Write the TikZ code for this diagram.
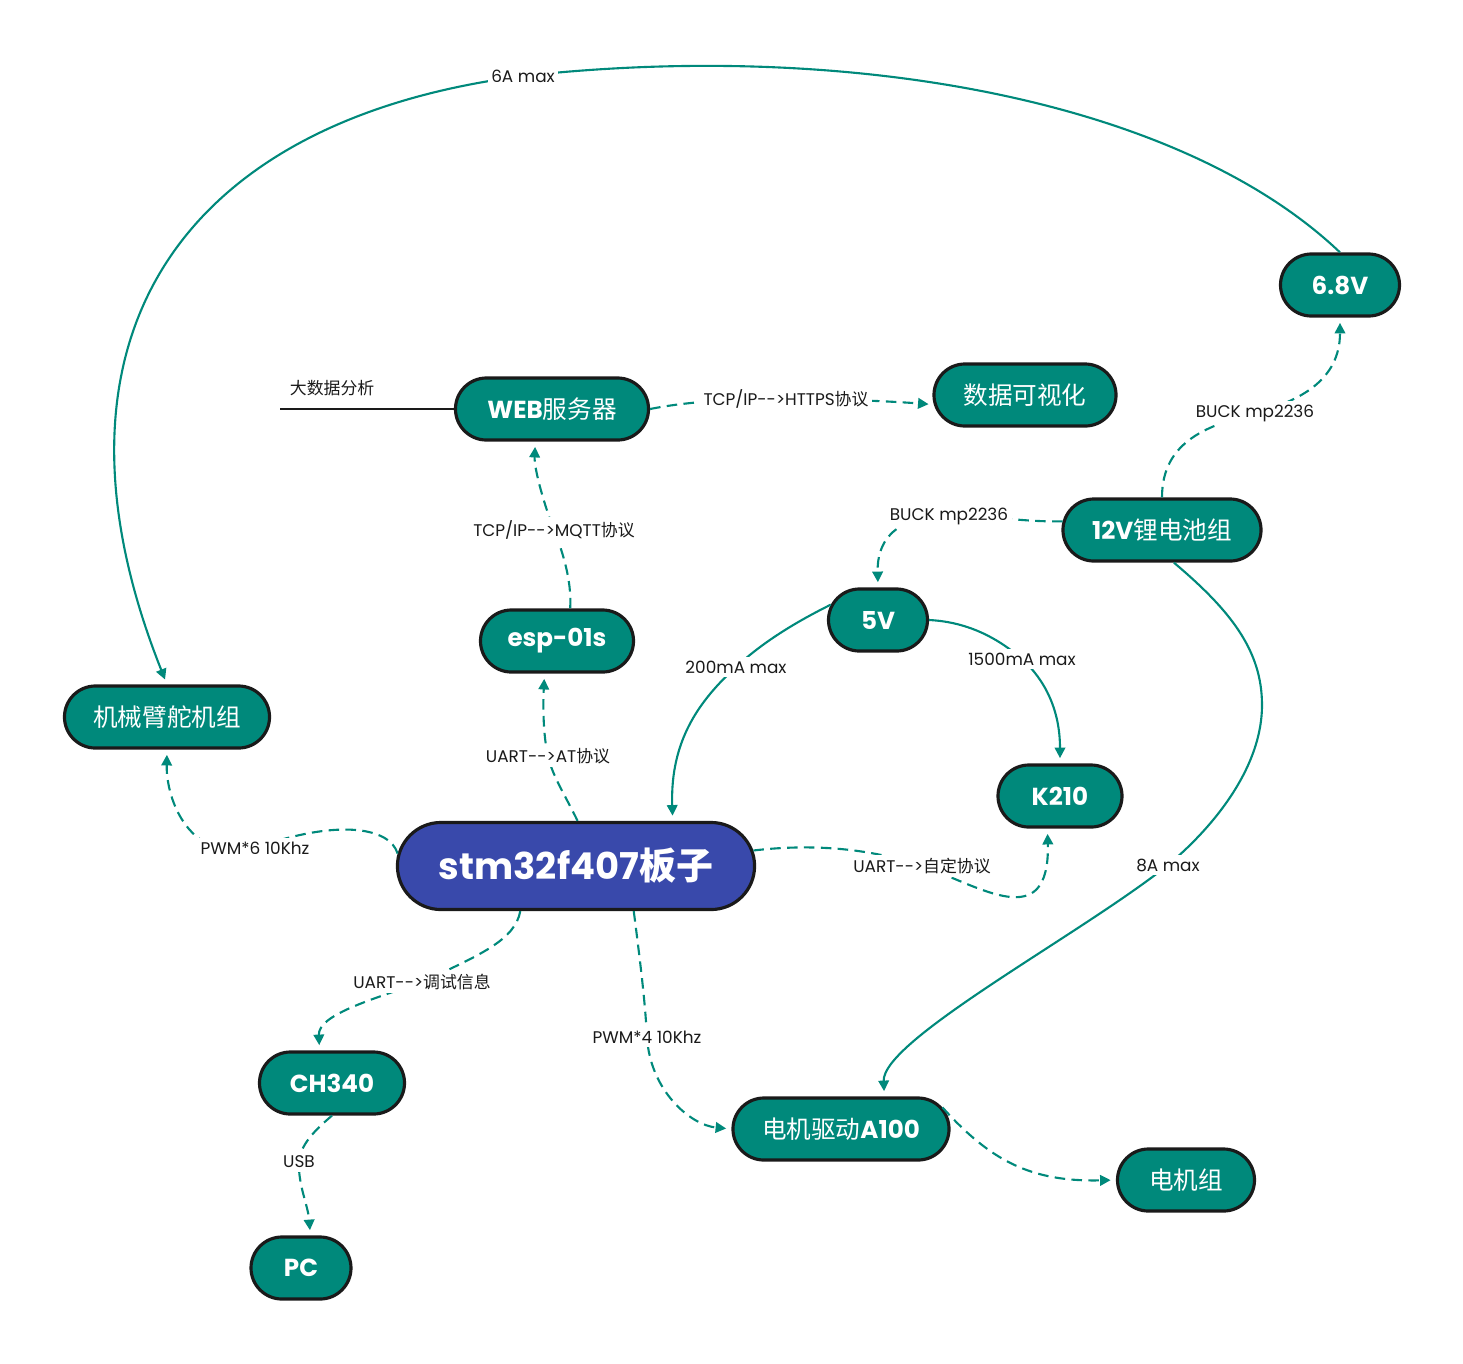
\documentclass[tikz,border=0pt]{standalone}
\usepackage{fontspec}
\setmainfont{Poppins}
\newfontfamily\cjk{Noto Sans CJK SC}
\usetikzlibrary{arrows.meta,shapes.misc}
\definecolor{teal1}{RGB}{0,137,123}
\definecolor{indigo1}{RGB}{57,73,171}
\definecolor{ink}{RGB}{26,26,26}
\newcommand\zh[1]{{\cjk\mdseries #1}}
\newcommand\zhb[1]{{\cjk\bfseries #1}}
\newcommand\tto{-{}->}
\begin{document}
\begin{tikzpicture}[x=0.01cm, y=-0.01cm,
    box/.style={rounded rectangle, draw=ink, line width=0.9pt, fill=teal1, text=white,
        minimum height=0.62cm, inner sep=2pt, font=\bfseries\fontsize{7}{8}\selectfont},
    lbl/.style={fill=white, inner sep=1pt, text=ink, font=\fontsize{4.8}{5.5}\selectfont},
    link/.style={teal1, line width=0.6pt, -{Triangle[width=3pt,length=3pt]}, shorten >=1.5pt},
    dlink/.style={link, dash pattern=on 3pt off 1.8pt}]
    \useasboundingbox (0,0) rectangle (1463,1363);
    \foreach \n/\x/\y/\w/\t in {web/552/409/2.07/WEB\zh{服务器}, vis/1025/395/1.96/\zh{数据可视化},
        v68/1340/285/1.33/6.8V, bat/1162/530/2.12/12V\zh{锂电池组}, v5/878/620/1.13/5V,
        esp/557/641/1.67/esp-01s, arm/167/717/2.19/\zh{机械臂舵机组}, k210/1060/796/1.38/K210,
        ch/332/1083/1.59/CH340, pc/301/1268/1.14/PC, drv/841/1129/2.30/\zh{电机驱动}A100,
        mot/1186/1180/1.51/\zh{电机组}} {
        \node[box, minimum width=\w cm] (\n) at (\x,\y) {\t};
    }
    \node[box, fill=indigo1, minimum width=3.71cm, minimum height=0.87cm,
        font=\bfseries\fontsize{10.5}{12}\selectfont] (stm) at (576,866) {stm32f407\zhb{板子}};
    \coordinate (bd) at (280,409);

    \draw[ink, line width=0.6pt] (bd) -- node[pos=.3, above=2.5pt, lbl, fill=none] {\zh{大数据分析}} (web.west);
    % power
    \draw[link] (v68.north) .. controls (1180,100) and (850,40) .. (523,76) node[lbl] {6A max}
        .. controls (180,120) and (30,340) .. (arm.north);
    \draw[dlink] (bat.north) .. controls (1162,440) and (1210,425) .. (1255,413) node[lbl] {BUCK mp2236}
        .. controls (1300,401) and (1340,380) .. (v68.south);
    \draw[dlink] (bat.175) .. controls (1020,522) and (1000,516) .. (949,516) node[lbl] {BUCK mp2236}
        .. controls (890,516) and (877,545) .. (v5.north);
    \draw[link] (bat.-70) .. controls (1230,610) and (1262,650) .. (1262,705)
        .. controls (1262,770) and (1210,830) .. (1168,865) node[lbl] {8A max}
        .. controls (1080,935) and (882,1040) .. (drv.37);
    \draw[link] (v5.162) .. controls (800,620) and (765,640) .. (736,667) node[lbl] {200mA max}
        .. controls (700,700) and (670,740) .. (stm.25);
    \draw[link] (v5.east) .. controls (970,622) and (1000,640) .. (1022,659) node[lbl] {1500mA max}
        .. controls (1045,680) and (1060,710) .. (k210.north);
    % data
    \draw[dlink] (esp.68) .. controls (572,580) and (562,550) .. (554,530) node[lbl] {TCP/IP\tto MQTT\zh{协议}}
        .. controls (546,510) and (534,470) .. (web.243);
    \draw[dlink] (web.east) .. controls (680,403) and (720,399) .. (786,399) node[lbl] {TCP/IP\tto HTTPS\zh{协议}}
        .. controls (850,399) and (900,402) .. (vis.186);
    \draw[dlink] (stm.88) .. controls (565,795) and (552,775) .. (548,756) node[lbl] {UART\tto AT\zh{协议}}
        .. controls (543,735) and (543,705) .. (esp.-111);
    \draw[dlink] (stm.176) .. controls (390,828) and (340,818) .. (255,848) node[lbl] {PWM*6 10Khz}
        .. controls (190,864) and (166,800) .. (arm.south);
    \draw[dlink] (stm.5) .. controls (800,845) and (860,845) .. (922,866) node[lbl] {UART\tto\zh{自定协议}}
        .. controls (980,886) and (1050,935) .. (k210.-111);
    \draw[dlink] (stm.219) .. controls (515,940) and (480,955) .. (422,982) node[lbl] {UART\tto\zh{调试信息}}
        .. controls (370,1000) and (318,1015) .. (ch.111);
    \draw[dlink] (stm.-38) .. controls (640,960) and (645,1000) .. (647,1037) node[lbl] {PWM*4 10Khz}
        .. controls (650,1090) and (690,1125) .. (drv.west);
    \draw[dlink] (ch.south) .. controls (315,1130) and (300,1145) .. (299,1162) node[lbl] {USB}
        .. controls (298,1185) and (308,1205) .. (pc.74);
    \draw[dlink] (drv.12) .. controls (990,1160) and (1030,1182) .. (mot.west);
\end{tikzpicture}
\end{document}
